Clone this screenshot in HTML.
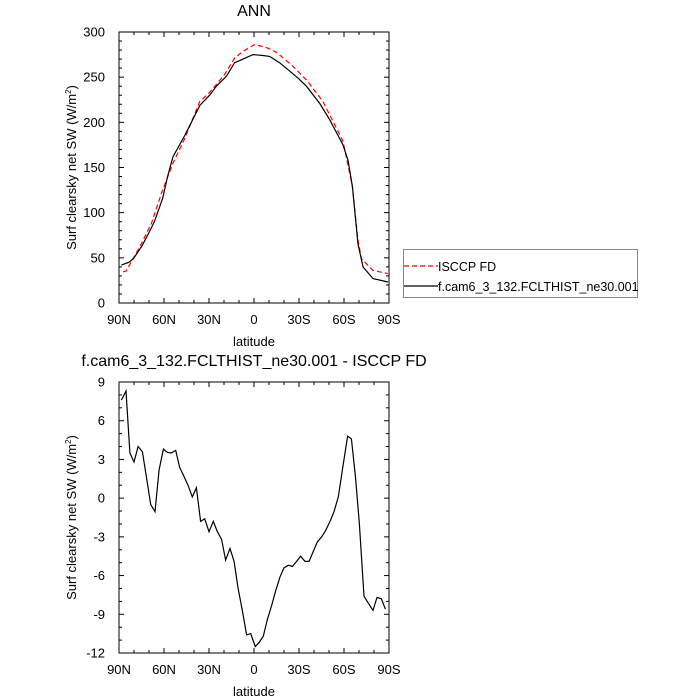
<!DOCTYPE html>
<html><head><meta charset="utf-8"><style>
body{margin:0;background:#fff}
svg{display:block;font-family:"Liberation Sans",Arial,sans-serif}
</style></head><body>
<svg id="c" width="700" height="700" viewBox="0 0 700 700"></svg>
<script>
// Top panel data (s = degrees from 90N; lat = 90 - s)
const modelS=[1.6,7.1,10,15.6,20,23.6,29.1,32.4,36,44,54,60.4,64.9,71.6,77.1,82.7,89.3,96,100.4,107.1,119.3,124.9,133.8,140.4,149.3,152.7,155.6,159.3,162.7,169.3,179.3];
const modelV=[42,45.5,50,64,78,90,116,140,162,186,219,230,240,251,266,270,275,274,273,266,249,240,221,203,175,158,129,66,40,27,23.3];
const obsS=[2.7,4.9,8.2,13.8,21.6,28.2,36,43.8,53.8,60.4,70.4,77.1,82.7,90.4,98.2,104.9,116,124.9,136,149.3,155.6,159.3,161.6,169.3,179.3];
const obsV=[34.4,35.5,45.5,62,88,121,155,182,223,233,253,271,278.6,286,283,277.5,262,247,223,179,129,70,49,36,32.5];
// Bottom panel: difference
const diffS=[1.6,4.7,7.3,10,12.7,15.6,18.2,21.1,24,26.7,29.6,32.2,34.9,37.8,40.4,43.3,46,48.9,51.6,54.4,57.1,60,62.9,65.6,68.4,71.1,74,76.7,79.3,82.2,85.1,87.8,90.9,93.3,96.2,98.9,101.8,104.4,107.3,110,112.9,115.6,118.4,121.1,124,126.7,129.6,132.2,135.1,137.8,140.7,143.3,146.2,148.9,152.4,154.9,157.6,160.2,163.3,166,169.3,172,174.9,177.6];
const diffV=[7.6,8.3,3.5,2.8,4.0,3.6,1.7,-0.5,-1.05,2.2,3.8,3.55,3.5,3.7,2.4,1.7,1.0,0.1,0.8,-1.8,-1.6,-2.6,-1.8,-2.6,-3.2,-4.8,-3.9,-4.9,-6.9,-8.7,-10.6,-10.5,-11.5,-11.2,-10.7,-9.4,-8.3,-7.2,-6.1,-5.4,-5.2,-5.3,-4.9,-4.5,-4.9,-4.9,-4.1,-3.4,-3.0,-2.5,-1.8,-1.05,0.1,2.2,4.8,4.6,1.7,-1.9,-7.6,-8.1,-8.7,-7.7,-7.8,-8.6];
const xTicks=["90N","60N","30N","0","30S","60S","90S"];
const topYTicks=[0,50,100,150,200,250,300];
const botYTicks=[-12,-9,-6,-3,0,3,6,9];

const svg=document.getElementById('c');
const NS='http://www.w3.org/2000/svg';
function mk(t,a,p){const e=document.createElementNS(NS,t);for(const k in a)e.setAttribute(k,a[k]);(p||svg).appendChild(e);return e;}
const X0=119,X1=389;
const xs=s=>X0+s/180*(X1-X0);

function panel(name,y0,y1,ymin,ymax,yt,minorStep){
  const ys=v=>y1-(v-ymin)/(ymax-ymin)*(y1-y0);
  const g=mk('g',{});
  
  
  mk('rect',{x:X0,y:y0,width:X1-X0,height:y1-y0,fill:'none',stroke:'#000','stroke-width':1},g);
  for(let s=0;s<=180;s+=10){const maj=s%30===0,L=maj?5:3,x=xs(s);
    mk('line',{x1:x,x2:x,y1:y1,y2:y1-L,stroke:'#000'},g);mk('line',{x1:x,x2:x,y1:y0,y2:y0+L,stroke:'#000'},g);}
  xTicks.forEach((t,i)=>{const e=mk('text',{x:xs(i*30),y:y1+21,'text-anchor':'middle','font-size':13},g);e.textContent=t;
    
    });
  for(let v=ymin;v<=ymax+1e-9;v+=minorStep){const maj=yt.some(t=>Math.abs(t-v)<1e-6),L=maj?5:3,y=ys(v);
    mk('line',{x1:X0,x2:X0+L,y1:y,y2:y,stroke:'#000'},g);mk('line',{x1:X1,x2:X1-L,y1:y,y2:y,stroke:'#000'},g);}
  yt.forEach(v=>{const e=mk('text',{x:X0-14,y:ys(v)+4.5,'text-anchor':'end','font-size':13},g);e.textContent=v;
    
    });
  const xl=mk('text',{x:(X0+X1)/2,y:y1+43,'text-anchor':'middle','font-size':13},g);xl.textContent='latitude';
  
  
  const yc=(y0+y1)/2;
  const yl=mk('text',{x:0,y:0,'text-anchor':'middle','font-size':13,transform:`translate(76,${yc}) rotate(-90)`},g);
  yl.innerHTML='Surf clearsky net SW (W/m<tspan dy="-5" font-size="8">2</tspan><tspan dy="5">)</tspan>';
  
  
  return ys;
}
const ysT=panel('top-panel',32,303,0,300,topYTicks,10);
const ysB=panel('bottom-panel',382,653,-12,9,botYTicks,1);
function line(S,V,ys,attrs,name){
  const d=S.map((s,i)=>(i?'L':'M')+xs(s).toFixed(1)+','+ys(V[i]).toFixed(1)).join('');
  const p=mk('path',Object.assign({d:d,fill:'none'},attrs));
  
  
}
line(obsS,obsV,ysT,{stroke:'#f00','stroke-width':1.2,'stroke-dasharray':'5,3'},'isccp-line');
line(modelS,modelV,ysT,{stroke:'#000','stroke-width':1.2},'model-line');
line(diffS,diffV,ysB,{stroke:'#000','stroke-width':1.2},'diff-line');
</script>
<svg style="position:absolute;left:0;top:0" width="700" height="700">
<text x="254" y="16" text-anchor="middle" font-size="16" font-family="Liberation Sans,Arial,sans-serif">ANN</text>
<text x="254" y="366" text-anchor="middle" font-size="16" font-family="Liberation Sans,Arial,sans-serif">f.cam6_3_132.FCLTHIST_ne30.001 - ISCCP FD</text>
<g>
<rect x="403.5" y="249.5" width="234" height="48" fill="none" stroke="#888" stroke-width="1"/>
<line x1="404" x2="438" y1="266" y2="266" stroke="#f00" stroke-width="1.2" stroke-dasharray="5,3"/>
<text x="438" y="271" font-size="12.5" font-family="Liberation Sans,Arial,sans-serif">ISCCP FD</text>
<line x1="404" x2="438" y1="286" y2="286" stroke="#000" stroke-width="1.2"/>
<text x="438" y="291" font-size="12.5" font-family="Liberation Sans,Arial,sans-serif">f.cam6_3_132.FCLTHIST_ne30.001</text>
</g>
</svg>
</body></html>
